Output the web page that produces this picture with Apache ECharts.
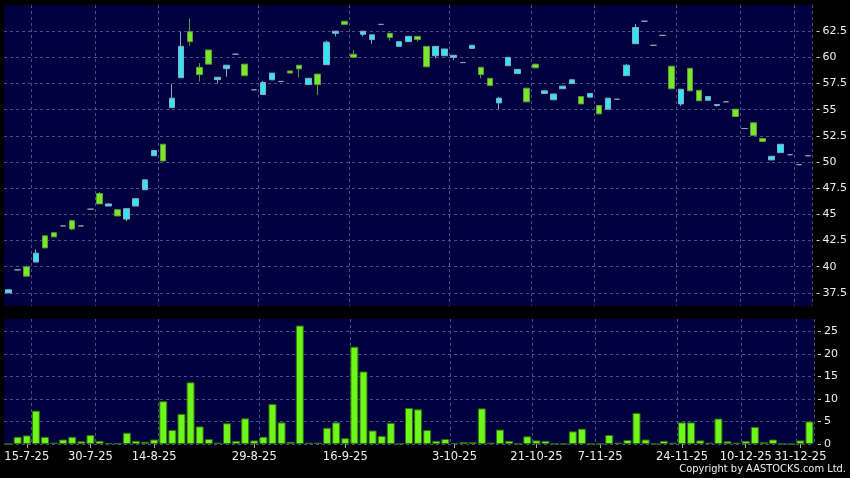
<!DOCTYPE html>
<html><head><meta charset="utf-8">
<script src="https://cdn.jsdelivr.net/npm/echarts@6/dist/echarts.min.js"></script>
<style>html,body{margin:0;padding:0;background:#000;}#c{width:850px;height:478px;}</style>
</head><body><div id="c"></div>
<script>
const dates = ['11-7-25','14-7-25','15-7-25','16-7-25','17-7-25','18-7-25','22-7-25','24-7-25','28-7-25','30-7-25',
'31-7-25','1-8-25','4-8-25','6-8-25','8-8-25','12-8-25','14-8-25','15-8-25','18-8-25','19-8-25',
'20-8-25','21-8-25','22-8-25','25-8-25','26-8-25','27-8-25','28-8-25','29-8-25','1-9-25','2-9-25',
'3-9-25','4-9-25','5-9-25','8-9-25','9-9-25','10-9-25','12-9-25','16-9-25','17-9-25','18-9-25',
'19-9-25','22-9-25','23-9-25','24-9-25','25-9-25','26-9-25','29-9-25','30-9-25','2-10-25','3-10-25',
'6-10-25','8-10-25','9-10-25','10-10-25','13-10-25','14-10-25','15-10-25','17-10-25','21-10-25','23-10-25',
'27-10-25','30-10-25','31-10-25','3-11-25','5-11-25','7-11-25','10-11-25','11-11-25','12-11-25','13-11-25',
'14-11-25','17-11-25','19-11-25','21-11-25','24-11-25','25-11-25','26-11-25','27-11-25','28-11-25','2-12-25',
'5-12-25','10-12-25','11-12-25','15-12-25','17-12-25','19-12-25','23-12-25','31-12-25','2-1-26'];
const tickLabels = ['15-7-25','30-7-25','14-8-25','29-8-25','16-9-25','3-10-25','21-10-25','7-11-25','24-11-25','10-12-25','31-12-25'];
const gridDates = ['16-7-25','31-7-25','15-8-25','1-9-25','17-9-25','3-10-25','21-10-25','7-11-25','24-11-25','10-12-25','31-12-25'];
const opens = [37.5,39.7,40.0,40.45,42.95,43.25,43.9,44.4,43.9,45.5,
47.0,45.8,45.45,44.55,45.8,47.35,50.6,51.7,55.2,58.05,
62.45,59.05,60.7,57.87,58.92,60.3,59.35,56.9,56.45,57.85,
57.7,58.7,59.25,57.4,58.4,59.3,62.3,63.45,60.3,62.2,
61.7,63.15,62.3,61.05,61.5,62.0,61.05,60.15,60.15,60.0,
59.5,60.85,59.05,58.0,55.65,59.2,58.45,57.05,59.35,56.55,
55.95,57.0,57.5,56.25,56.2,55.4,55.05,56.0,58.25,61.3,
63.45,61.15,62.1,59.15,55.55,58.95,56.85,55.9,55.4,55.75,
55.05,53.2,53.75,52.25,50.2,50.9,50.7,49.75,50.6];
const closes = [37.8,39.7,39.1,41.3,41.8,42.85,43.9,43.6,43.9,45.5,
46.0,46.0,44.85,45.55,46.5,48.3,51.1,50.1,56.1,61.05,
61.5,58.35,59.35,58.1,59.25,60.3,58.25,56.9,57.6,58.5,
57.7,58.5,58.9,58.0,57.4,61.45,62.5,63.15,60.0,62.5,
62.15,63.15,61.9,61.5,62.0,61.7,59.1,61.05,60.8,60.2,
59.5,61.15,58.35,57.3,56.1,60.0,58.85,55.75,59.0,56.8,
56.5,57.25,57.85,55.55,56.55,54.6,56.1,56.0,59.25,62.85,
63.45,61.15,62.1,57.0,56.95,56.8,55.85,56.25,55.5,55.75,
54.35,53.2,52.55,51.95,50.55,51.7,50.7,49.75,50.6];
const lows = [37.5,39.7,39.1,40.4,41.75,42.85,43.9,43.5,43.9,45.5,
46.0,45.8,44.85,44.35,45.8,47.35,50.6,50.1,55.2,58.05,
61.1,57.7,59.35,57.5,58.15,60.3,58.25,56.9,56.45,57.85,
57.7,58.5,58.1,57.4,56.4,59.3,62.0,63.15,60.0,62.0,
61.3,63.15,61.6,61.05,61.5,61.5,59.1,59.9,60.15,59.75,
59.5,60.85,58.0,57.3,55.05,59.2,58.45,55.75,59.0,56.55,
55.95,57.0,57.5,55.55,56.2,54.6,55.05,56.0,58.25,61.3,
63.45,61.15,62.1,57.0,55.35,56.8,55.85,55.9,55.3,55.75,
54.35,53.2,52.55,51.95,50.2,50.9,50.7,49.75,50.6];
const highs = [37.8,39.7,40.1,41.65,43.0,43.25,43.9,44.5,43.9,45.5,
47.15,46.05,45.45,45.55,46.5,48.3,51.1,51.7,57.45,62.45,
63.7,59.45,60.7,58.1,59.25,60.3,59.35,56.9,57.75,58.5,
57.7,58.7,59.25,58.0,58.4,61.6,62.5,63.45,60.7,62.5,
62.15,63.15,62.3,61.5,62.05,62.05,61.05,61.05,60.8,60.2,
59.5,61.15,59.05,58.0,56.2,60.0,58.85,57.05,59.35,56.8,
56.5,57.25,57.95,56.25,56.55,55.4,56.1,56.0,59.35,63.2,
63.45,61.15,62.1,59.15,56.95,58.95,56.85,56.25,55.5,55.75,
55.05,53.2,53.75,52.25,50.55,51.7,50.7,49.75,50.6];
const volumes = [0,1.6,1.9,7.4,1.6,0.3,1.0,1.6,0.6,2.0,
0.7,0.15,0.15,2.5,0.7,0.5,1.0,9.5,3.1,6.7,
13.7,3.9,1.1,0.3,4.6,0.7,5.7,0.8,1.6,8.9,
4.8,0.5,26.3,0.3,0.3,3.6,4.8,1.3,21.6,16.1,
3.0,1.8,4.7,0.07,8.0,7.7,3.1,0.7,1.1,0.2,
0.45,0.45,7.9,0.3,3.2,0.7,0.07,1.7,0.8,0.7,
0.1,0.05,2.8,3.4,0,0.05,2.0,0.3,0.9,6.9,
1.0,0.05,0.7,0.3,4.8,4.8,0.8,0.3,5.65,0.6,
0.3,0.7,3.8,0.4,1.0,0.05,0,0.8,5.0];
const priceTicks = [37.5,40,42.5,45,47.5,50,52.5,55,57.5,60,62.5];
const volumeTicks = [0,5,10,15,20,25];

const FONT = 'DejaVu Sans';
const gridLine = {show:true, lineStyle:{color:'#4c4c86', type:[3,3], width:1}};
const chart = echarts.init(document.getElementById('c'), null, {renderer:'canvas'});
const candles = dates.map((d,i)=>[opens[i], closes[i], lows[i], highs[i]]);
const showLabel = (i, v) => tickLabels.indexOf(v) >= 0;
const showGrid = (i, v) => gridDates.indexOf(v) >= 0;

chart.setOption({
  animation:false,
  backgroundColor:'#000000',
  grid:[
    {left:4, right:36, top:5, height:301, show:true, backgroundColor:'#00003f', borderWidth:0},
    {left:4, right:36, top:319, height:125, show:true, backgroundColor:'#00003f', borderWidth:0}
  ],
  xAxis:[
    {type:'category', gridIndex:0, data:dates, boundaryGap:true,
     axisLine:{show:false}, axisTick:{show:false}, axisLabel:{show:false},
     splitLine:Object.assign({interval:showGrid}, gridLine)},
    {type:'category', gridIndex:1, data:dates, boundaryGap:true,
     axisLine:{show:false},
     axisTick:{show:true, alignWithLabel:true, interval:showLabel, length:4, lineStyle:{color:'#aaaaaa'}},
     axisLabel:{show:true, interval:showLabel, color:'#f0f0f0', fontFamily:FONT, fontSize:11.5, margin:7},
     splitLine:Object.assign({interval:showGrid}, gridLine)}
  ],
  yAxis:[
    {type:'value', gridIndex:0, position:'right', min:36.25, max:65, offset:4, scale:true,
     axisLine:{show:false},
     axisTick:{show:true, length:3, customValues:priceTicks, lineStyle:{color:'#cccccc'}},
     axisLabel:{show:true, customValues:priceTicks, color:'#f0f0f0', fontFamily:FONT, fontSize:11, margin:6},
     splitLine:gridLine},
    {type:'value', gridIndex:1, position:'right', min:0, max:27.75, offset:4,
     axisLine:{show:false},
     axisTick:{show:true, length:3, customValues:volumeTicks, lineStyle:{color:'#cccccc'}},
     axisLabel:{show:true, customValues:volumeTicks, color:'#f0f0f0', fontFamily:FONT, fontSize:11, margin:6},
     splitLine:gridLine}
  ],
  series:[
    {type:'candlestick', xAxisIndex:0, yAxisIndex:0, data:candles, barWidth:6,
     itemStyle:{color:'#2fe6f2', color0:'#79e82b', borderColor:'#8ba8c8', borderColor0:'#5e9a3c', borderColorDoji:'#9b9bbb', borderWidth:1}},
    {type:'bar', xAxisIndex:1, yAxisIndex:1, data:volumes, barWidth:8,
     itemStyle:{color:'#6ef51a', borderColor:'#2f700c', borderWidth:1}}
  ],
  graphic:[
    {type:'text', right:4, top:464, style:{text:'Copyright by AASTOCKS.com Ltd.', fill:'#f0f0f0', font:'11px "DejaVu Sans Condensed"'}}
  ]
});
</script></body></html>
